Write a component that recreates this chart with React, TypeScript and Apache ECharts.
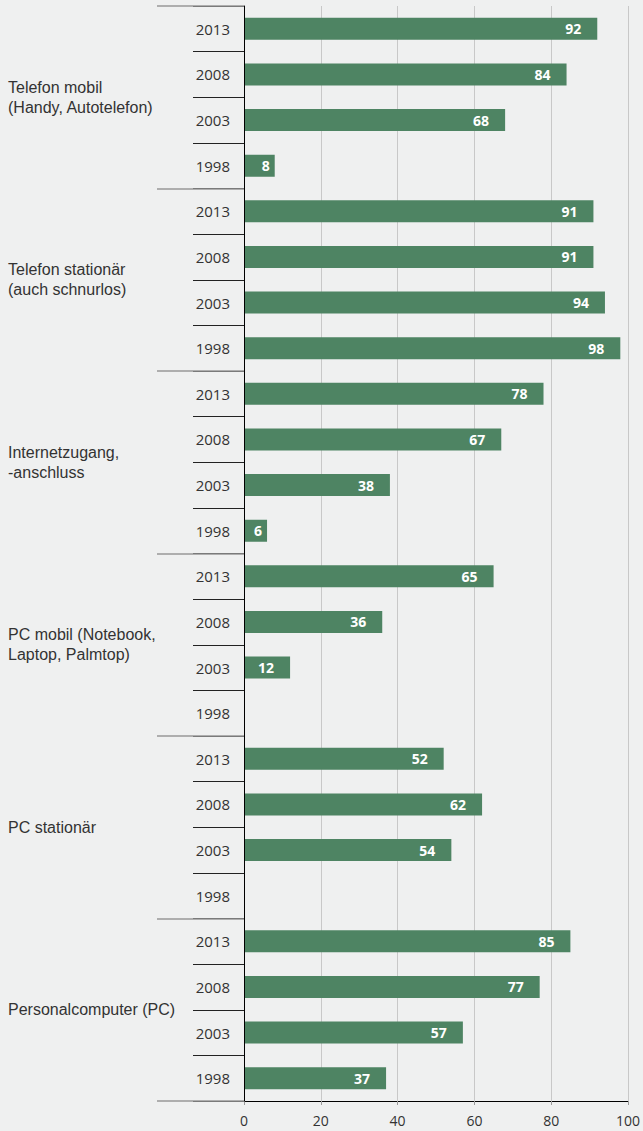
import React, { useEffect, useRef } from "react";
import * as echarts from "echarts";

const groups = [
  "Telefon mobil\n(Handy, Autotelefon)",
  "Telefon stationär\n(auch schnurlos)",
  "Internetzugang,\n-anschluss",
  "PC mobil (Notebook,\nLaptop, Palmtop)",
  "PC stationär",
  "Personalcomputer (PC)",
];
const years = ["2013", "2008", "2003", "1998"];
const telefonMobil = [92, 84, 68, 8];
const telefonStationaer = [91, 91, 94, 98];
const internet = [78, 67, 38, 6];
const pcMobil = [65, 36, 12, null];
const pcStationaer = [52, 62, 54, null];
const personalcomputer = [85, 77, 57, 37];
const xTicks = { min: 0, max: 100, interval: 20 };

export default function App() {
  const ref = useRef<HTMLDivElement>(null);
  useEffect(() => {
    if (!ref.current) return;
    const chart = echarts.init(ref.current, null, { renderer: "svg" });
    const all = [telefonMobil, telefonStationaer, internet, pcMobil, pcStationaer, personalcomputer];
    const cats: string[] = [];
    const values: any[] = [];
    all.forEach((arr, gi) => {
      years.forEach((y, yi) => {
        cats.push(gi + "_" + y);
        const v = arr[yi];
        if (v == null) values.push(null);
        else if (v < 10) values.push({ value: v, label: { distance: 5 } });
        else values.push(v);
      });
    });
    chart.setOption({
      animation: false,
      backgroundColor: "#eff0f0",
      grid: { left: 244, right: 15, top: 6, bottom: 30 },
      xAxis: {
        type: "value",
        min: xTicks.min,
        max: xTicks.max,
        interval: xTicks.interval,
        axisLine: { show: true, lineStyle: { color: "#000", width: 1 } },
        axisTick: { show: true, length: 4, lineStyle: { color: "#999" } },
        axisLabel: { fontFamily: "Open Sans", fontSize: 14, color: "#333", margin: 12 },
        splitLine: { show: true, lineStyle: { color: "#c8c8c8", width: 1 } },
      },
      yAxis: [
        {
          type: "category",
          data: cats,
          inverse: true,
          axisLine: { show: true, lineStyle: { color: "#000", width: 1 } },
          axisTick: { show: true, length: 51, interval: 0, lineStyle: { color: "#222", width: 1 } },
          axisLabel: {
            interval: 0,
            fontFamily: "Open Sans",
            fontSize: 15,
            color: "#333",
            margin: 14,
            formatter: (v: string) => v.split("_")[1],
          },
          z: 3,
        },
        {
          type: "category",
          data: groups,
          inverse: true,
          position: "left",
          axisLine: { show: false },
          axisTick: { show: true, length: 87, interval: 0, lineStyle: { color: "#999", width: 1.5 } },
          axisLabel: {
            interval: 0,
            fontFamily: "Liberation Sans",
            fontSize: 16,
            color: "#333",
            align: "left",
            margin: 236,
            lineHeight: 20,
          },
          z: 4,
        },
      ],
      series: [
        {
          type: "bar",
          yAxisIndex: 0,
          data: values,
          barWidth: 22,
          itemStyle: { color: "#4e8463" },
          label: {
            show: true,
            position: "insideRight",
            distance: 16,
            color: "#fff",
            fontFamily: "Open Sans",
            fontWeight: "bold",
            fontSize: 14,
          },
        },
      ],
    });
    return () => chart.dispose();
  }, []);
  return (
    <div
      ref={ref}
      style={{ position: "absolute", left: 0, top: 0, width: 643, height: 1131 }}
    />
  );
}
